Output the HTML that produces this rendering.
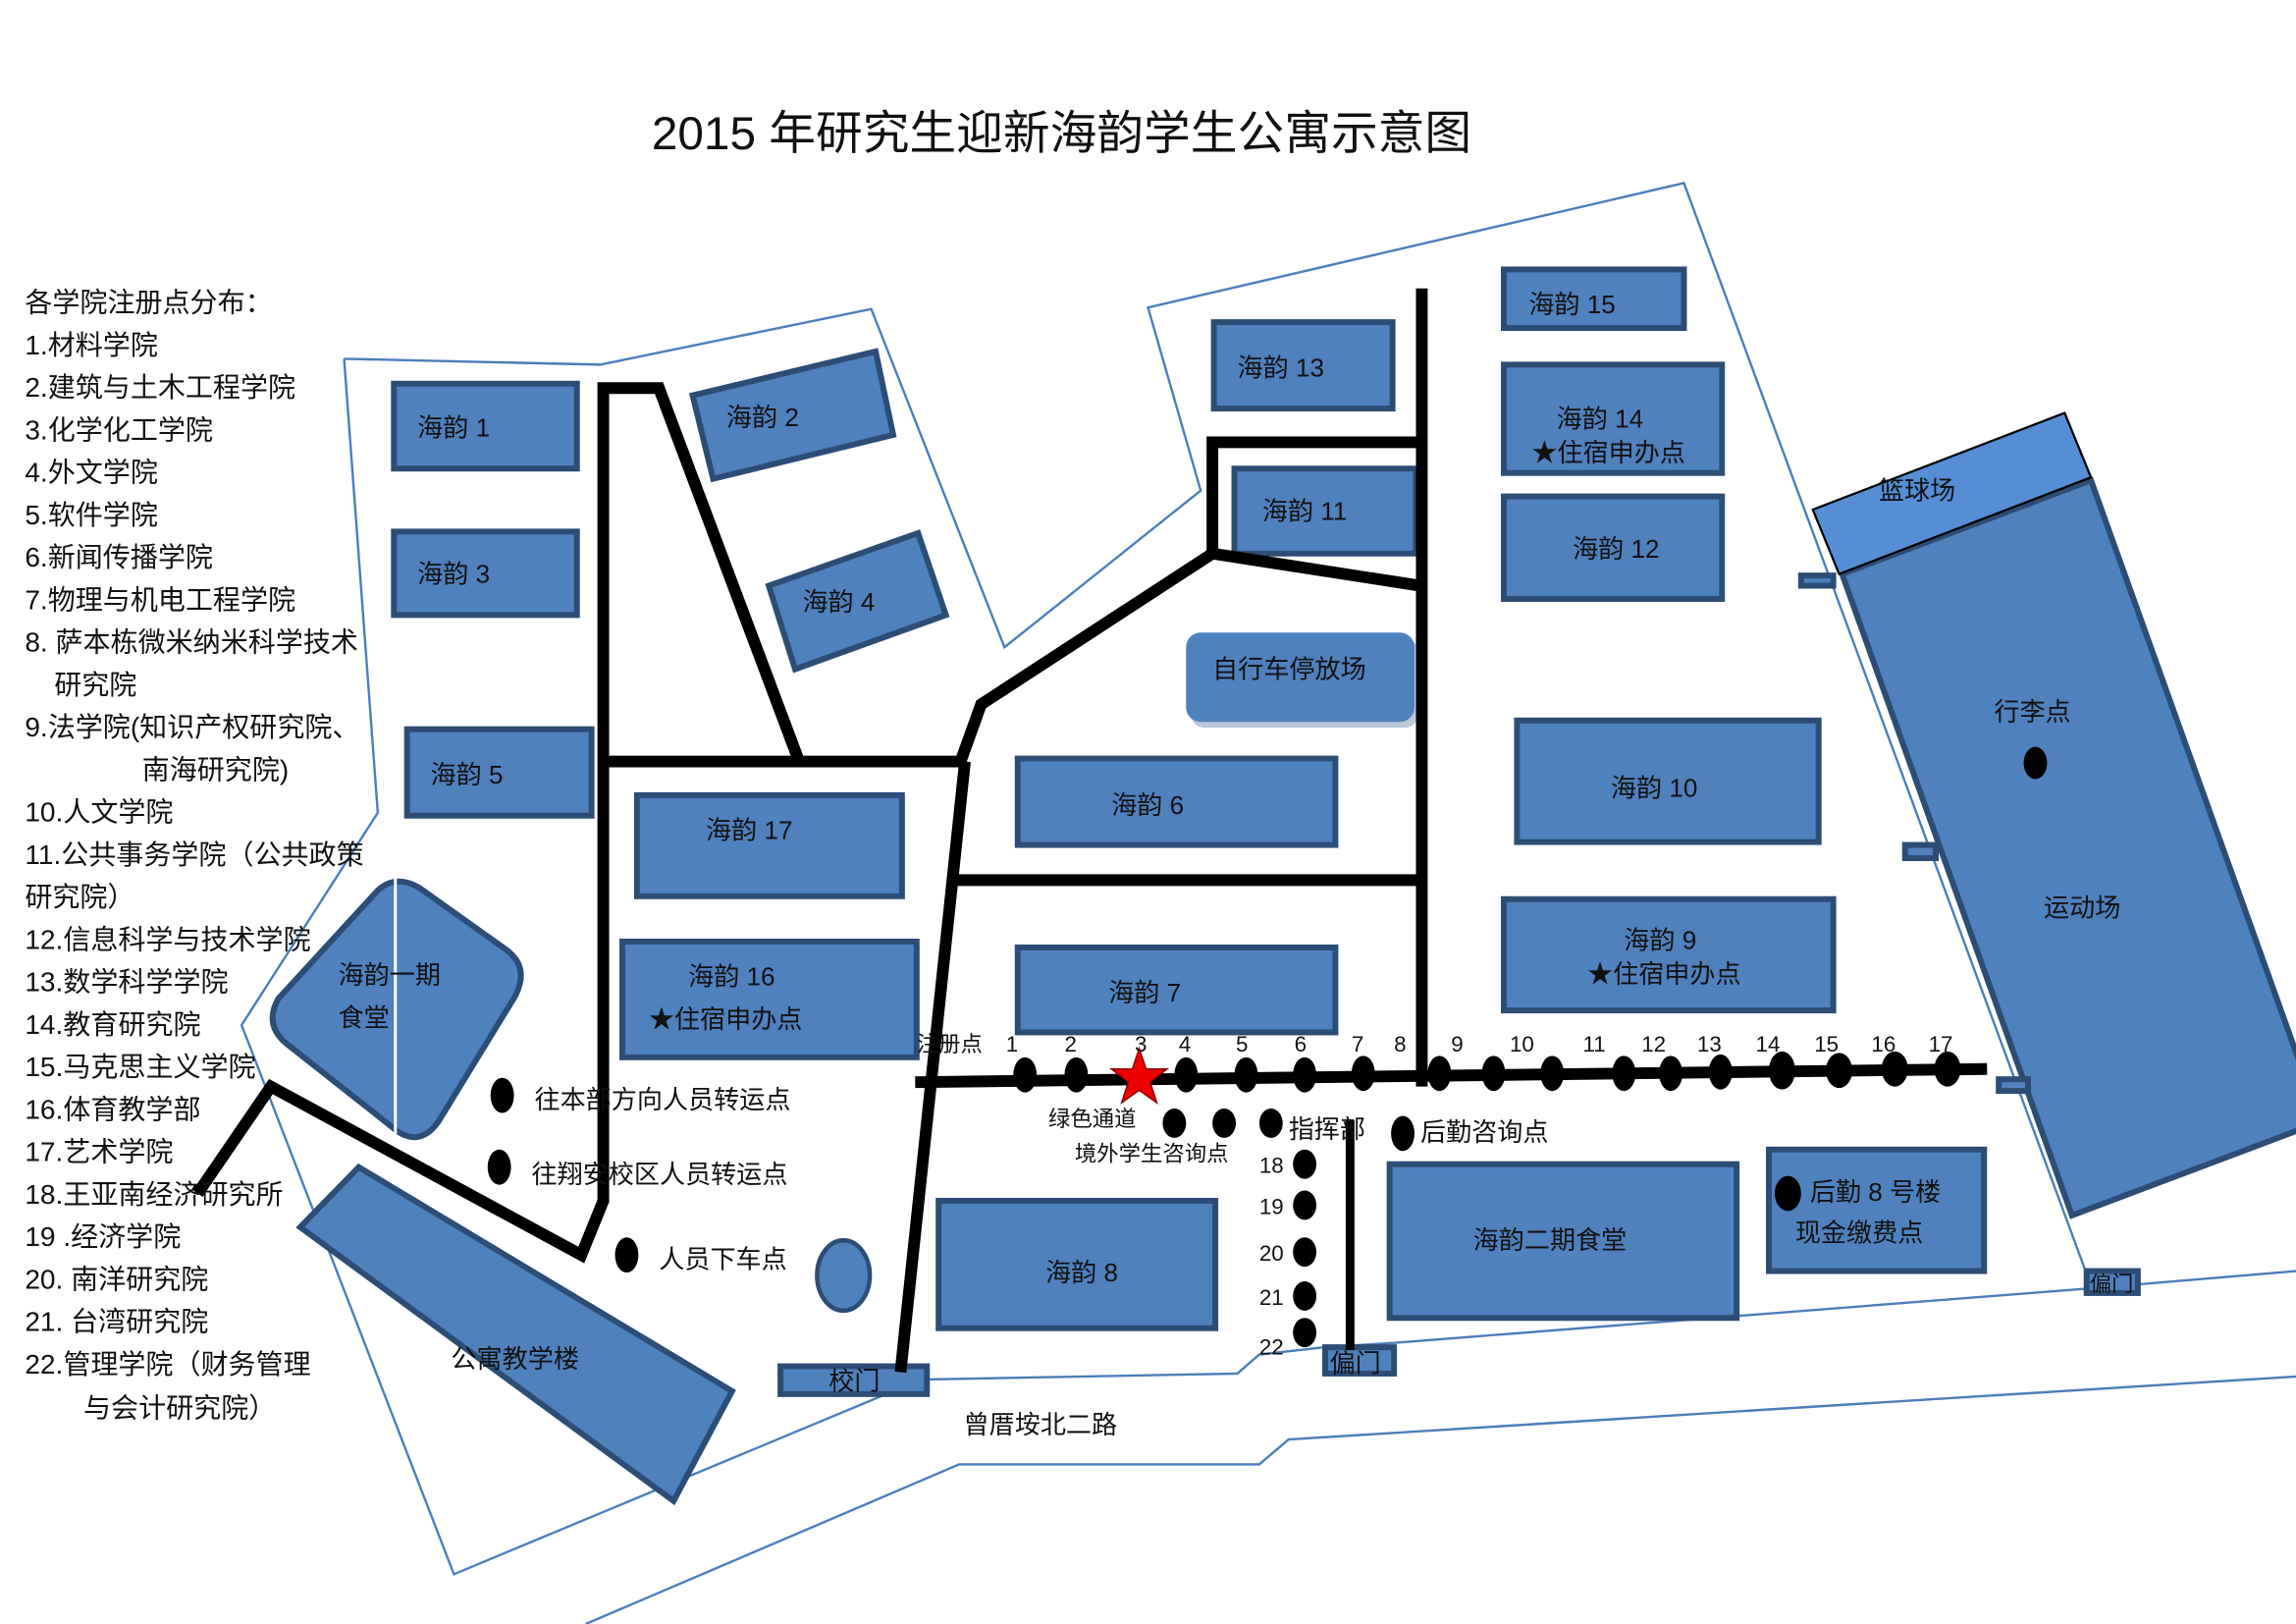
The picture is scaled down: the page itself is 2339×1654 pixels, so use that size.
<!DOCTYPE html>
<html><head><meta charset="utf-8"><style>
html,body{margin:0;padding:0;background:#fff}
svg{display:block}
text{font-family:"Liberation Sans","Noto Sans CJK SC",sans-serif;fill:#111}
.b{fill:#4f81bd;stroke:#2c4d75;stroke-width:4}
.r{fill:none;stroke:#000;stroke-width:8}
.bd{fill:none;stroke:#4a7ebb;stroke-width:1.6}
.t{font-size:17.5px}
.l{font-size:18.8px}
.n{font-size:15px}
.d{fill:#000}
</style></head><body>
<svg width="2339" height="1654" viewBox="0 0 1568 1109" preserveAspectRatio="none" xmlns="http://www.w3.org/2000/svg">
<rect width="1568" height="1109" fill="#fff"/>
<text x="725" y="102" font-size="32" text-anchor="middle">2015 年研究生迎新海韵学生公寓示意图</text>

<polyline class="bd" points="235,245 410,249 595,211 686,442 820,335 784,210 1150,125 1428,878"/>
<polyline class="bd" points="235,245 258,555 165,700 310,1075 610,950"/>
<polyline class="bd" points="633,942 845,938 860,925 905,920 952,917 1425,880 1568,868"/>
<polyline class="bd" points="400,1109 655,1000 860,1000 880,983 1568,940"/>

<polygon points="1258,392 1428,328 1585,766 1415,830" fill="#4f81bd" stroke="#2c4d75" stroke-width="4"/>
<polygon points="1238,348 1410,282 1428,326 1256,392" fill="#558ed5" stroke="#000" stroke-width="1.5"/>
<text class="t" x="1283" y="341">篮球场</text>
<text class="t" x="1388" y="492" text-anchor="middle">行李点</text>
<ellipse class="d" cx="1390" cy="521" rx="8" ry="11"/>
<text class="t" x="1422" y="626" text-anchor="middle">运动场</text>
<rect class="b" x="1230" y="393" width="22" height="7" stroke-width="3"/>
<rect class="b" x="1301" y="577" width="21" height="9" stroke-width="3"/>
<rect class="b" x="1365" y="737" width="20" height="8" stroke-width="3"/>

<rect class="b" x="269" y="262" width="125" height="58"/><text class="t" x="285" y="298">海韵 1</text>
<rect class="b" x="269" y="363" width="125" height="57"/><text class="t" x="285" y="398">海韵 3</text>
<rect class="b" x="278" y="498" width="126" height="59"/><text class="t" x="294" y="535">海韵 5</text>
<polygon class="b" points="473,270 598,240 610,297 487,327"/><text class="t" x="496" y="291">海韵 2</text>
<polygon class="b" points="525,400 627,364 646,420 543,457"/><text class="t" x="548" y="417">海韵 4</text>
<rect class="b" x="435" y="543" width="181" height="69"/><text class="t" x="482" y="573">海韵 17</text>
<rect class="b" x="425" y="643" width="201" height="79"/><text class="t" x="470" y="673">海韵 16</text><text class="t" x="443" y="702">★住宿申办点</text>
<path d="M258,608 Q270,597 286,606 L345,648 Q362,660 352,680 L300,765 Q288,783 272,773 L196,713 Q180,700 190,682 Z" fill="#4f81bd" stroke="#2c4d75" stroke-width="4"/>
<line x1="270" y1="598" x2="270" y2="778" stroke="#fff" stroke-width="2"/>
<text class="t" x="231" y="672">海韵一期</text><text class="t" x="231" y="701">食堂</text>
<polygon class="b" points="245,797 500,950 460,1025 205,838"/>
<text class="t" x="308" y="934">公寓教学楼</text>
<ellipse cx="576" cy="871" rx="18" ry="24" fill="#4f81bd" stroke="#2c4d75" stroke-width="3"/>
<rect class="b" x="533" y="933" width="100" height="19"/><text class="t" x="566" y="949">校门</text>
<rect class="b" x="641" y="820" width="189" height="87"/><text class="t" x="714" y="875">海韵 8</text>
<rect class="b" x="695" y="647" width="217" height="58"/><text class="t" x="757" y="684">海韵 7</text>
<rect class="b" x="695" y="518" width="217" height="59"/><text class="t" x="759" y="556">海韵 6</text>
<rect x="813" y="436" width="156" height="61" rx="10" fill="#9bb0cc" opacity=".7"/>
<rect x="810" y="432" width="156" height="61" rx="10" fill="#4f81bd"/><text class="t" x="828" y="463">自行车停放场</text>
<rect class="b" x="829" y="220" width="122" height="59"/><text class="t" x="845" y="257">海韵 13</text>
<rect class="b" x="843" y="320" width="124" height="58"/><text class="t" x="862" y="355">海韵 11</text>
<rect class="b" x="1027" y="184" width="123" height="40"/><text class="t" x="1044" y="214">海韵 15</text>
<rect class="b" x="1027" y="249" width="149" height="74"/><text class="t" x="1063" y="292">海韵 14</text><text class="t" x="1046" y="315">★住宿申办点</text>
<rect class="b" x="1027" y="339" width="149" height="70"/><text class="t" x="1074" y="381">海韵 12</text>
<rect class="b" x="1036" y="492" width="206" height="83"/><text class="t" x="1100" y="544">海韵 10</text>
<rect class="b" x="1027" y="614" width="225" height="76"/><text class="t" x="1109" y="648">海韵 9</text><text class="t" x="1084" y="671">★住宿申办点</text>
<rect class="b" x="949" y="795" width="237" height="105"/><text class="t" x="1006" y="853">海韵二期食堂</text>
<rect class="b" x="1208" y="785" width="147" height="83"/><text class="t" x="1236" y="820">后勤 8 号楼</text><text class="t" x="1226" y="848">现金缴费点</text>
<rect class="b" x="1425" y="868" width="35" height="15" stroke-width="3"/><text class="n" x="1427" y="882">偏门</text>
<rect class="b" x="905" y="920" width="47" height="18" stroke-width="3"/><text class="t" x="908" y="937">偏门</text>

<polyline class="r" points="135,815 185,742 397,857 412,820 412,265 450,265 545,518"/>
<line class="r" x1="413" y1="520" x2="656" y2="520"/>
<polyline class="r" points="656,520 670,481 828,378 828,302 970,302"/>
<line class="r" x1="828" y1="378" x2="970" y2="400"/>
<line class="r" x1="971" y1="197" x2="971" y2="742"/>
<line class="r" x1="652" y1="601" x2="971" y2="601"/>
<line class="r" x1="659" y1="520" x2="615" y2="937"/>
<line class="r" x1="625" y1="739" x2="1357" y2="730"/>
<line x1="922" y1="765" x2="922" y2="922" stroke="#000" stroke-width="6"/>

<g class="d">
<ellipse cx="700" cy="734" rx="8" ry="12"/><ellipse cx="735" cy="734" rx="8" ry="12"/>
<ellipse cx="810" cy="734" rx="8" ry="12"/><ellipse cx="851" cy="734" rx="8" ry="12"/>
<ellipse cx="891" cy="734" rx="8" ry="12"/><ellipse cx="931" cy="733" rx="8" ry="12"/>
<ellipse cx="983" cy="733" rx="8" ry="12"/><ellipse cx="1020" cy="733" rx="8" ry="12"/>
<ellipse cx="1060" cy="733" rx="8" ry="12"/><ellipse cx="1109" cy="733" rx="8" ry="12"/>
<ellipse cx="1141" cy="733" rx="8" ry="12"/><ellipse cx="1175" cy="732" rx="8" ry="12"/>
<ellipse cx="1217" cy="731" rx="9" ry="13"/><ellipse cx="1256" cy="731" rx="9" ry="12"/>
<ellipse cx="1294" cy="730" rx="9" ry="12"/><ellipse cx="1330" cy="730" rx="9" ry="12"/>
<ellipse cx="802" cy="767" rx="8" ry="10"/><ellipse cx="836" cy="767" rx="8" ry="10"/>
<ellipse cx="868" cy="767" rx="8" ry="10"/><ellipse cx="958" cy="774" rx="8" ry="12"/>
<ellipse cx="891" cy="795" rx="8" ry="10"/><ellipse cx="891" cy="823" rx="8" ry="10"/>
<ellipse cx="891" cy="855" rx="8" ry="10"/><ellipse cx="891" cy="885" rx="8" ry="10"/>
<ellipse cx="891" cy="910" rx="8" ry="10"/>
<ellipse cx="343" cy="748" rx="8" ry="12"/><ellipse cx="341" cy="797" rx="8" ry="12"/>
<ellipse cx="428" cy="857" rx="8" ry="12"/><ellipse cx="1221" cy="815" rx="9" ry="12"/>
</g>
<polygon points="778,716 782.7,730 797,730 785.5,739 790,753 778,744.5 766,753 770.5,739 759,730 773.3,730" fill="#e00" stroke="#800" stroke-width="1"/>
<g class="n">
<text x="626" y="718">注册点</text>
<text x="687" y="718">1</text><text x="727" y="718">2</text><text x="775" y="718">3</text><text x="805" y="718">4</text>
<text x="844" y="718">5</text><text x="884" y="718">6</text><text x="923" y="718">7</text><text x="952" y="718">8</text>
<text x="991" y="718">9</text><text x="1031" y="718">10</text><text x="1081" y="718">11</text><text x="1121" y="718">12</text>
<text x="1159" y="718">13</text><text x="1199" y="718">14</text><text x="1239" y="718">15</text><text x="1278" y="718">16</text>
<text x="1317" y="718">17</text>
<text x="716" y="769">绿色通道</text><text x="734" y="793">境外学生咨询点</text>
<text x="860" y="801">18</text><text x="860" y="829">19</text><text x="860" y="861">20</text><text x="860" y="891">21</text><text x="860" y="925">22</text>
</g>
<text class="t" x="880" y="777">指挥部</text>
<text class="t" x="970" y="779">后勤咨询点</text>
<text class="t" x="365" y="757">往本部方向人员转运点</text>
<text class="t" x="363" y="808">往翔安校区人员转运点</text>
<text class="t" x="450" y="866">人员下车点</text>
<text class="t" x="658" y="979">曾厝垵北二路</text>

<g class="l">
<text x="17" y="213">各学院注册点分布：</text>
<text x="17" y="242">1.材料学院</text>
<text x="17" y="271">2.建筑与土木工程学院</text>
<text x="17" y="300">3.化学化工学院</text>
<text x="17" y="329">4.外文学院</text>
<text x="17" y="358">5.软件学院</text>
<text x="17" y="387">6.新闻传播学院</text>
<text x="17" y="416">7.物理与机电工程学院</text>
<text x="17" y="445">8.  萨本栋微米纳米科学技术</text>
<text x="37" y="474">研究院</text>
<text x="17" y="503">9.法学院(知识产权研究院、</text>
<text x="97" y="532">南海研究院)</text>
<text x="17" y="561">10.人文学院</text>
<text x="17" y="590">11.公共事务学院（公共政策</text>
<text x="17" y="619">研究院）</text>
<text x="17" y="648">12.信息科学与技术学院</text>
<text x="17" y="677">13.数学科学学院</text>
<text x="17" y="706">14.教育研究院</text>
<text x="17" y="735">15.马克思主义学院</text>
<text x="17" y="764">16.体育教学部</text>
<text x="17" y="793">17.艺术学院</text>
<text x="17" y="822">18.王亚南经济研究所</text>
<text x="17" y="851">19 .经济学院</text>
<text x="17" y="880">20.  南洋研究院</text>
<text x="17" y="909">21.  台湾研究院</text>
<text x="17" y="938">22.管理学院（财务管理</text>
<text x="57" y="968">与会计研究院）</text>
</g>
</svg>
</body></html>
